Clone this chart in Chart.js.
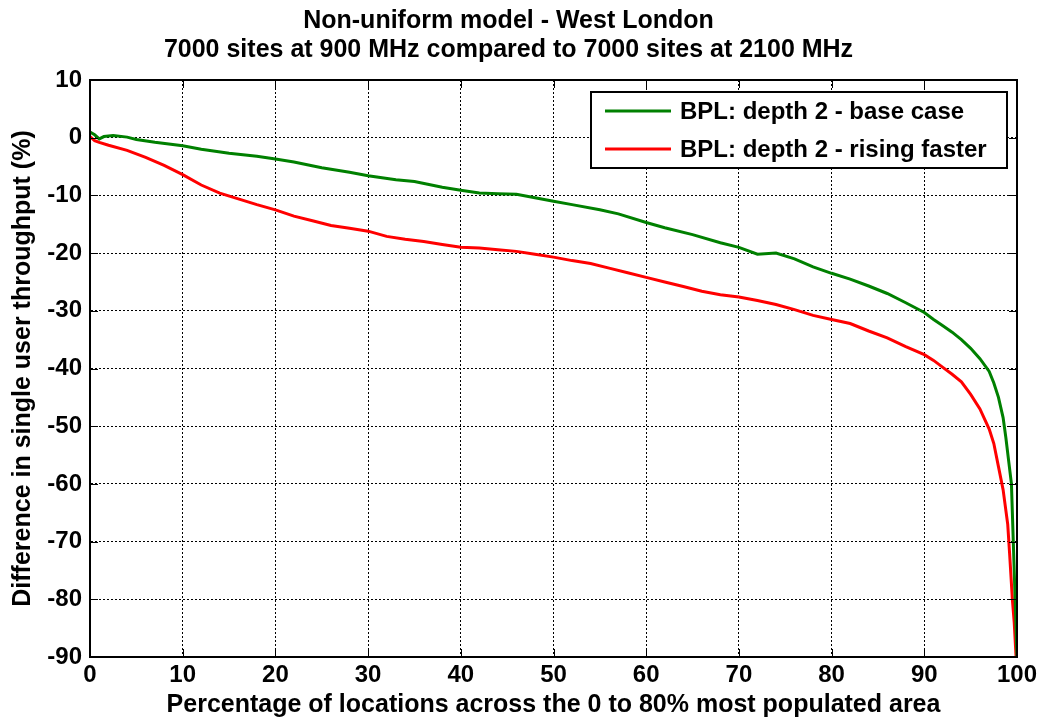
<!DOCTYPE html>
<html>
<head>
<meta charset="utf-8">
<script src="https://cdn.jsdelivr.net/npm/chart.js@4.4.0/dist/chart.umd.min.js"></script>
<style>
  html, body { margin: 0; padding: 0; background: #fff; }
  #wrap { width: 1043px; height: 720px; }
</style>
</head>
<body>
<div id="wrap"><canvas id="chart" width="1043" height="720"></canvas></div>
<script>
var titleLines = ['Non-uniform model - West London', '7000 sites at 900 MHz compared to 7000 sites at 2100 MHz'];
var xTitle = 'Percentage of locations across the 0 to 80% most populated area';
var yTitle = 'Difference in single user throughput (%)';
var seriesNames = ['BPL: depth 2 - base case', 'BPL: depth 2 - rising faster'];

var baseX = [0, 0.5, 1, 1.5, 2.5, 4, 5, 7, 10, 12, 15, 18, 20, 22, 25, 28, 30, 33, 35, 38, 40, 42, 44, 46, 48, 50,
  52, 55, 57, 60, 62, 65, 68, 70, 72, 74, 76, 78, 80, 82, 84, 86, 88, 90, 91, 92, 93, 94, 95, 96, 97, 97.5, 98,
  98.5, 98.8, 99.1, 99.4, 99.6, 99.8, 99.9, 100];
var baseY = [1.0, 0.5, -0.2, 0.2, 0.4, 0.1, -0.3, -0.8, -1.4, -2.0, -2.7, -3.2, -3.7, -4.2, -5.2, -6.0, -6.6, -7.3,
  -7.6, -8.6, -9.1, -9.6, -9.7, -9.8, -10.4, -11.0, -11.6, -12.5, -13.2, -14.7, -15.6, -16.8, -18.2, -19.0, -20.2,
  -20.0, -21.0, -22.4, -23.5, -24.5, -25.7, -27.0, -28.6, -30.3, -31.5, -32.6, -33.7, -35.0, -36.5, -38.3, -40.5,
  -42.5, -45, -48.5, -52, -56, -60, -70, -80, -85, -90];

var risingX = [0, 0.5, 1, 2, 4, 6, 8, 10, 12, 14, 16, 18, 20, 22, 24, 26, 28, 30, 32, 34, 36, 38, 40, 42, 44, 46, 48,
  50, 52, 54, 56, 58, 60, 62, 64, 66, 68, 70, 72, 74, 76, 78, 80, 82, 84, 86, 88, 90, 91, 92, 93, 94, 95, 96, 97,
  97.5, 98, 98.5, 99, 99.2, 99.5, 99.7, 99.9];
var risingY = [0.2, -0.5, -0.8, -1.3, -2.2, -3.4, -4.8, -6.4, -8.2, -9.6, -10.6, -11.6, -12.5, -13.6, -14.4, -15.2,
  -15.7, -16.2, -17.1, -17.6, -18.0, -18.5, -19.0, -19.1, -19.4, -19.7, -20.2, -20.7, -21.3, -21.8, -22.6, -23.4,
  -24.2, -25.0, -25.8, -26.6, -27.2, -27.6, -28.2, -28.9, -29.8, -30.8, -31.5, -32.2, -33.5, -34.7, -36.2, -37.6,
  -38.6, -39.8, -41.0, -42.3, -44.5, -47.0, -50.5, -53, -57, -61, -67, -72, -80, -84, -90];

var xTicks = [0, 10, 20, 30, 40, 50, 60, 70, 80, 90, 100];
var yTicks = [10, 0, -10, -20, -30, -40, -50, -60, -70, -80, -90];

var FONT = '"Liberation Sans", Arial, sans-serif';

function toPoints(xs, ys) {
  return xs.map(function (x, i) { return { x: x, y: ys[i] }; });
}

// inward ticks, top/right frame and boxed legend, MATLAB style
var frameAndLegend = {
  id: 'frameAndLegend',
  afterDatasetsDraw: function (chart) {
    var ctx = chart.ctx, a = chart.chartArea;
    var xs = chart.scales.x, ys = chart.scales.y;
    ctx.save();
    ctx.strokeStyle = '#000';
    ctx.lineWidth = 1;
    ctx.beginPath();
    xTicks.forEach(function (t) {
      var px = Math.round(xs.getPixelForValue(t)) + 0.5;
      ctx.moveTo(px, a.bottom); ctx.lineTo(px, a.bottom - 8);
      ctx.moveTo(px, a.top); ctx.lineTo(px, a.top + 8);
    });
    yTicks.forEach(function (t) {
      var py = Math.round(ys.getPixelForValue(t)) + 0.5;
      ctx.moveTo(a.left, py); ctx.lineTo(a.left + 8, py);
      ctx.moveTo(a.right, py); ctx.lineTo(a.right - 8, py);
    });
    ctx.stroke();
    ctx.lineWidth = 2;
    ctx.strokeRect(a.left, a.top, a.right - a.left, a.bottom - a.top);

    // legend
    var lx = 591, ly = 92, lw = 416, lh = 76;
    ctx.fillStyle = '#fff';
    ctx.fillRect(lx, ly, lw, lh);
    ctx.lineWidth = 2;
    ctx.strokeRect(lx, ly, lw, lh);
    ctx.font = 'bold 24px ' + FONT;
    ctx.textBaseline = 'middle';
    chart.data.datasets.forEach(function (ds, i) {
      var yy = ly + 19 + i * 38;
      ctx.strokeStyle = ds.borderColor;
      ctx.lineWidth = 3;
      ctx.beginPath();
      ctx.moveTo(lx + 14, yy); ctx.lineTo(lx + 80, yy);
      ctx.stroke();
      ctx.fillStyle = '#000';
      ctx.fillText(ds.label, lx + 89, yy + 1);
    });
    ctx.restore();
  }
};

var config = {
  type: 'line',
  data: {
    datasets: [{
      label: seriesNames[0],
      data: toPoints(baseX, baseY),
      borderColor: '#008000',
      borderWidth: 3,
      pointRadius: 0,
      tension: 0,
      fill: false
    }, {
      label: seriesNames[1],
      data: toPoints(risingX, risingY),
      borderColor: '#ff0000',
      borderWidth: 3,
      pointRadius: 0,
      tension: 0,
      fill: false
    }]
  },
  options: {
    responsive: false,
    animation: false,
    layout: { padding: { top: 0, right: 26, left: 0, bottom: 0 } },
    plugins: {
      legend: { display: false },
      tooltip: { enabled: false },
      title: {
        display: true,
        text: titleLines,
        color: '#000',
        font: { family: FONT, size: 25, weight: 'bold', lineHeight: 1.16 },
        padding: { top: 7, bottom: 15 }
      }
    },
    scales: {
      x: {
        type: 'linear',
        min: 0,
        max: 100,
        afterFit: function (s) { s.height = 63; },
        afterBuildTicks: function (s) { s.ticks = xTicks.map(function (v) { return { value: v }; }); },
        ticks: { color: '#000', font: { family: FONT, size: 24, weight: 'bold' }, padding: 4, maxRotation: 0 },
        grid: { color: '#000', lineWidth: 1, drawTicks: false },
        border: { display: true, color: '#000', width: 2, dash: [2, 2] },
        title: {
          display: true,
          text: xTitle,
          color: '#000',
          font: { family: FONT, size: 25, weight: 'bold' },
          padding: { top: 0, bottom: 0 }
        }
      },
      y: {
        type: 'linear',
        min: -90,
        max: 10,
        afterFit: function (s) { s.width = 90; },
        afterBuildTicks: function (s) { s.ticks = yTicks.map(function (v) { return { value: v }; }); },
        ticks: { color: '#000', font: { family: FONT, size: 24, weight: 'bold' }, padding: 8 },
        grid: { color: '#000', lineWidth: 1, drawTicks: false },
        border: { display: true, color: '#000', width: 2, dash: [2, 2] },
        title: {
          display: true,
          text: yTitle,
          color: '#000',
          font: { family: FONT, size: 25, weight: 'bold' },
          padding: { top: 8, bottom: 0 }
        }
      }
    }
  },
  plugins: [frameAndLegend]
};

window.onload = function () {
  var ctx = document.getElementById('chart').getContext('2d');
  window.myChart = new Chart(ctx, config);
};
</script>
</body>
</html>
